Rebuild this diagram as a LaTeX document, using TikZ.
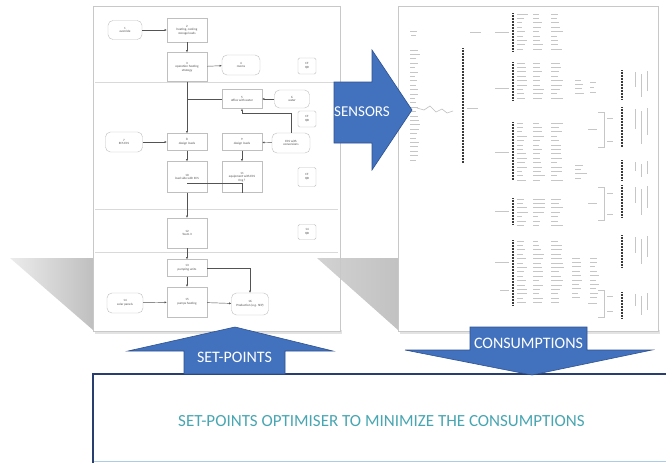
\documentclass[tikz,border=0pt]{standalone}
\usepackage{fontspec}
\setmainfont{Carlito}
\usetikzlibrary{arrows.meta,shadings}
\definecolor{arrowblue}{RGB}{66,114,190}
\definecolor{arrowedge}{RGB}{47,82,143}
\definecolor{tealtxt}{RGB}{72,166,178}
\definecolor{boxnavy}{RGB}{40,62,110}
\definecolor{boxlight}{RGB}{170,205,230}
\definecolor{panelline}{RGB}{200,200,200}
\newcommand\fakecol[5]{%
  \foreach \i in {1,...,#3}{%
    \pgfmathsetmacro\len{#5*(0.45+0.55*rnd)}%
    \draw[ink] (#1,{#2+(\i-1)*#4}) -- ++(\len,0);}}
\begin{document}
\begin{tikzpicture}[x=1pt,y=-1pt,
  fbox/.style={draw=gray!50, fill=white, inner sep=0.4pt, align=center,
    font=\fontsize{3.2}{3.7}\selectfont, text=gray!60!black},
  procbox/.style={fbox, minimum width=40pt},
  termbox/.style={fbox, rounded corners=5pt},
  smallbox/.style={fbox, rounded corners=1.5pt, minimum width=18pt, minimum height=16pt},
  flow/.style={draw=gray!65!black, line width=0.45pt, -{Latex[length=2.2pt,width=2.2pt]}},
  plain/.style={draw=gray!65!black, line width=0.45pt},
  lane/.style={draw=gray!30, line width=0.5pt},
  ink/.style={draw=gray!45, line width=0.7pt},
  bar/.style={draw=gray!45!black, line width=1.4pt, dash pattern=on 1pt off 0.5pt},
  bigarrow/.style={fill=arrowblue, draw=arrowedge, line width=0.6pt},
  arrowtext/.style={text=white, font=\fontsize{16}{18}\selectfont}
]
\useasboundingbox (0,0) rectangle (666,463);
\fill[white] (0,0) rectangle (666,463);
\pgfmathsetseed{11}

% panels
\fill[gray!22] (95,330) rectangle (342,333.5);
\fill[gray!22] (400,330) rectangle (660,333.5);
\fill[white] (93,6) rectangle (340,331);
\fill[white] (398,6) rectangle (658,331);

% shadows
\shade[left color=gray!15, right color=gray!50] (10,258) -- (93,258) -- (93,330) -- cycle;
\shade[left color=gray!35, right color=gray!48] (317,258) -- (398,258) -- (398,330) -- cycle;

\draw[panelline, line width=0.8pt] (93,6) rectangle (340,331);
\draw[panelline, line width=0.8pt] (398,6) rectangle (658,331);

% swimlanes
\draw[lane] (95,82) -- (338,82);
\draw[lane] (95,209) -- (338,209);
\draw[lane] (95,252) -- (338,252);

% flowchart nodes
\node[termbox, minimum width=34pt, minimum height=19pt] (n1) at (125,30) {1\\override};
\node[procbox, minimum height=24pt] (n2) at (187,30) {2\\heating, cooling\\storage loads};
\node[procbox, minimum height=29pt] (n3) at (187,67) {3\\operation heating\\strategy};
\node[termbox, minimum width=38pt, minimum height=20pt] (n4) at (241,65) {4\\rooms};
\node[smallbox] (q1) at (307,66) {CF\\QR};
\node[procbox, minimum height=19pt] (n5) at (242,99) {5\\office with water};
\node[termbox, minimum width=35pt, minimum height=18pt] (n6) at (292,99) {6\\water};
\node[smallbox] (q2) at (307,119) {CF\\QB};
\node[termbox, minimum width=37pt, minimum height=20pt] (n7) at (124,142) {7\\ECS ECS};
\node[procbox, minimum height=17pt] (n8) at (187,142) {8\\design loads};
\node[procbox, minimum height=17pt] (n9) at (242,142) {9\\design loads};
\node[termbox, minimum width=38pt, minimum height=20pt] (n10) at (291,143) {ECS with\\conversions};
\node[procbox, minimum height=31pt] (n11) at (187,177) {10\\load side with ECS};
\node[procbox, minimum height=31pt] (n12) at (242,177) {11\\equipment with ECS\\Eng ?};
\node[smallbox, minimum height=19pt] (q3) at (307,177) {CF\\QB};
\node[procbox, minimum height=30pt] (n13) at (187,233) {12\\Team 3};
\node[smallbox, minimum height=15pt] (q4) at (307,232) {14\\QB};
\node[procbox, minimum height=17pt] (n14) at (187,268) {13\\pumping units};
\node[termbox, minimum width=36pt, minimum height=20pt] (n15) at (125,303) {14\\solar panels};
\node[procbox, minimum height=30pt] (n16) at (187,302) {15\\pumps heating};
\node[termbox, minimum width=37pt, minimum height=22pt] (n17) at (250,304) {16\\Production (e.g. SEP)};

% flowchart connectors
\draw[flow] (n1) -- (n2);
\draw[flow] (n2) -- (n3);
\draw[flow] (n3) -- (n4);
\draw[flow] (n3) -- (n8);
\draw[plain] (n5.west) -- (n5.west -| n3.south);
\draw[flow] (n6) -- (n5);
\draw[flow] (n10.north) -- ++(0,-20) -| (n5.south);
\draw[flow] (n7) -- (n8);
\draw[flow] (n10) -- (n9);
\draw[flow] (n8) -- (n11);
\draw[flow] (n9) -- (n12);
\draw[plain] (n12.south) |- ([yshift=9pt]n11.south);
\draw[flow] (n11) -- (n13);
\draw[flow] (n13) -- (n14);
\draw[flow] (n14) -- (n16);
\draw[flow] (n15) -- (n16);
\draw[flow] (n16) -- (n17);
\draw[flow] (n14.east) -| (n17.north);

% right panel: schematic tree
\draw[ink] (410,31) -- (417,31); \draw[ink] (411,35) -- (416,35);
\fakecol{410}{50}{26}{4.4}{10}
\draw[gray!50, line width=0.6pt] (417,108) -- (424,110) -- (430,106) -- (436,112) -- (442,109) -- (447,113) -- (453,111);
\draw[bar] (463,48) -- (463,163);
\draw[ink] (470,32) -- (481,32);
\draw[ink] (467,108) -- (478,108);
% groups
\foreach \yt/\yb/\yl/\n in {13/52/32/9, 62/100/88/9, 122/180/152/14, 198/225/211/7, 240/305/262/15}{
  \draw[bar] (513,\yt) -- (513,\yb);
  \draw[ink] (495,\yl) -- (509,\yl);
  \fakecol{517}{\yt+1}{\n}{4.4}{11}
  \fakecol{533}{\yt+1}{\n}{4.4}{12}
  \fakecol{551}{\yt+1}{\n}{4.4}{13}
}
\draw[ink] (500,290) -- (509,290);
\fakecol{575}{80}{4}{4.4}{12}
\fakecol{575}{165}{4}{4.4}{12}
\fakecol{572}{258}{10}{4.4}{10}
\fakecol{590}{258}{10}{4.4}{9}
\fakecol{590}{82}{3}{5}{8}
% right column
\foreach \a/\b in {70/100, 107/147, 160/180, 185/218, 235/267, 292/318}{
  \draw[bar] (622,\a) -- (622,\b);
  \draw[ink, line width=0.6pt] (635,\a+2) -- (635,\a+0.55*\b-0.55*\a);
  \draw[ink, line width=0.6pt] (641,\a+4) -- (641,\b-3);
  \draw[ink, line width=0.6pt] (647,\a+1) -- (647,\a+0.7*\b-0.7*\a);
}
\foreach \a/\b in {112/147, 187/220, 290/317}{
  \draw[ink, line width=0.5pt] (598,\a) -- (604,\a) -- (604,\b) -- (598,\b);
  \draw[ink, line width=0.5pt] (607,\a+6) -- (613,\a+6);
  \draw[ink, line width=0.5pt] (607,\b-6) -- (613,\b-6);
  \draw[ink, line width=0.5pt] (588,{(\a+\b)/2}) -- (597,{(\a+\b)/2});
}

% bottom box
\fill[white] (93,374) rectangle (666,463);
\draw[boxlight, line width=1pt] (93,461) -- (666,461);
\draw[boxnavy, line width=1.3pt] (666,374) -- (93,374) -- (93,463);
\node[text=tealtxt, font=\fontsize{17}{20}\selectfont] (opt) at (381.5,421) {SET-POINTS OPTIMISER TO MINIMIZE THE CONSUMPTIONS};

% big arrows
\draw[bigarrow] (334,82) -- (372,82) -- (372,50) -- (412,110) -- (372,170) -- (372,143) -- (334,143) -- cycle;
\node[arrowtext, font=\fontsize{15}{17}\selectfont] (sens) at (362,112) {SENSORS};
\draw[bigarrow] (235,327) -- (333,351) -- (285,351) -- (285,374) -- (184,374) -- (184,351) -- (128,351) -- cycle;
\node[arrowtext] (setp) at (234.5,357.5) {SET-POINTS};
\draw[bigarrow] (470,327) -- (587,327) -- (587,350) -- (652,350) -- (532,375) -- (405,350) -- (470,350) -- cycle;
\node[arrowtext] (cons) at (528.5,343) {CONSUMPTIONS};
\end{tikzpicture}
\end{document}
